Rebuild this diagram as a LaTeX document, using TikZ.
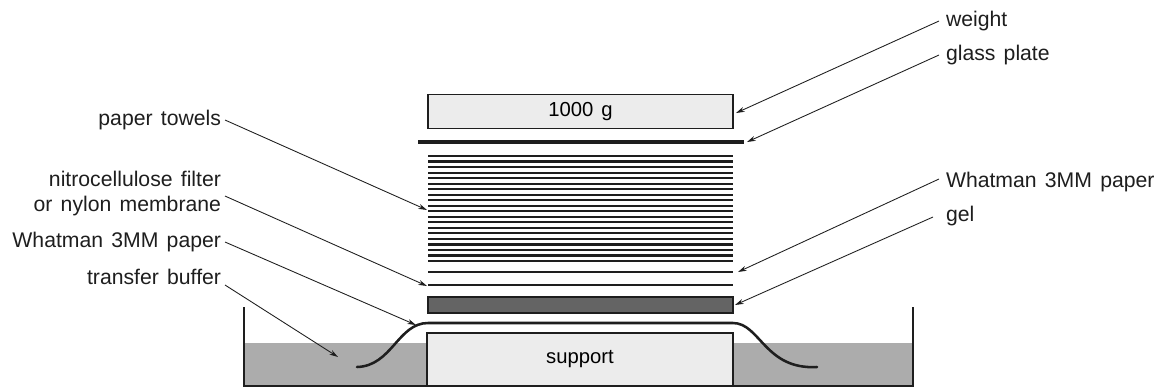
\documentclass[tikz,border=0pt]{standalone}
\usepackage{fontspec}
\setmainfont[WordSpace=1.4]{Liberation Sans}
\usetikzlibrary{arrows.meta}
\definecolor{ink}{RGB}{30,30,30}
\definecolor{pale}{RGB}{236,236,236}
\definecolor{bufgray}{RGB}{172,172,172}
\definecolor{gelgray}{RGB}{100,100,100}
\tikzset{
  lbl/.style={font=\fontsize{15.9}{18.75}\selectfont,text=ink,inner sep=0pt,outer sep=3pt},
  lblone/.style={lbl,text height=12pt,text depth=3.8pt},
  lead/.style={draw=ink,line width=0.65pt,-{Stealth[length=6.5pt,width=3.8pt]}},
  slab/.style={draw=ink,line width=0.9pt,inner sep=0pt,outer sep=0pt,font=\fontsize{15.2}{15}\selectfont},
  sheet/.style={ink,line width=1.6pt}
}

\begin{document}
\begin{tikzpicture}[x=0.75pt,y=-0.75pt]
  \useasboundingbox (0,0) rectangle (1161,387);
  \fill[white] (0,0) rectangle (1161,387);
  % tank and buffer
  \fill[bufgray] (244,343) rectangle (913,386);
  \draw[ink,line width=1pt] (244,307) -- (244,386) -- (913,386) -- (913,307);
  \node[slab,fill=pale,minimum width=229.5pt,minimum height=39.75pt] (support) at (580,359.5) {support};
  % stack
  \node[slab,fill=pale,minimum width=228.75pt,minimum height=25.5pt] (weight) at (580.5,111.5) {1000 g};
  \node[fill=ink,inner sep=0pt,minimum width=244.5pt,minimum height=2.8pt] (plate) at (581,142) {};
  \foreach \i in {0,...,19}{
    \draw[sheet] (428,156+\i*5.53) -- (733,156+\i*5.53);
  }
  \draw[sheet] (428,272) -- (733,272);
  \draw[sheet] (428,285) -- (733,285);
  \node[slab,fill=gelgray,minimum width=228.75pt,minimum height=12pt] (gel) at (580.5,305) {};
  \draw[ink,line width=1.9pt,line cap=round] (357,367) .. controls (392,366) and (398,323) .. (428,323) -- (733,323) .. controls (760,323) and (765,370) .. (817,367);
  % labels
  \foreach \nm/\txt/\y in {lblweight/weight/21,lblplate/glass plate/55,lblwhatr/Whatman 3MM paper/182,lblgel/gel/216}{
    \node[lblone,anchor=west,outer sep=5.25pt] (\nm) at (939,\y) {\txt};
  }
  \node[lblone,anchor=east] (lbltowel) at (225,120) {paper towels};
  \node[lbl,anchor=east,align=right] (lblnitro) at (225,193.5) {nitrocellulose filter\\or nylon membrane};
  \node[lblone,anchor=east] (lblwhatl) at (225,242) {Whatman 3MM paper};
  \node[lblone,anchor=east] (lblbuffer) at (225,279) {transfer buffer};
  % arrow ends
  \coordinate (tgtweight) at (736,113);
  \coordinate (tgtplate) at (747,142);
  \coordinate (tgtwhatr) at (738,272);
  \coordinate (tgtgel) at (735,305);
  \coordinate (tgttowel) at (427,210);
  \coordinate (tgtnitro) at (427,286);
  \coordinate (tgtwhatl) at (416,325);
  \coordinate (tgtbuffer) at (338,357);
  \foreach \a/\b in {lblweight/tgtweight,lblplate/tgtplate}{
    \draw[lead] (\a.west) -- (\b);
  }
  \draw[lead] ([yshift=2.25pt]lblwhatr.west) -- (tgtwhatr);
  \draw[lead] ([xshift=-4.5pt,yshift=-0.75pt]lblgel.west) -- (tgtgel);
  \foreach \a/\b in {lbltowel/tgttowel,lblwhatl/tgtwhatl}{
    \draw[lead] (\a.east) -- (\b);
  }
  \draw[lead] ([yshift=-1.9pt]lblnitro.east) -- (tgtnitro);
  \draw[lead] ([yshift=-4.5pt]lblbuffer.east) -- (tgtbuffer);
\end{tikzpicture}
\end{document}
